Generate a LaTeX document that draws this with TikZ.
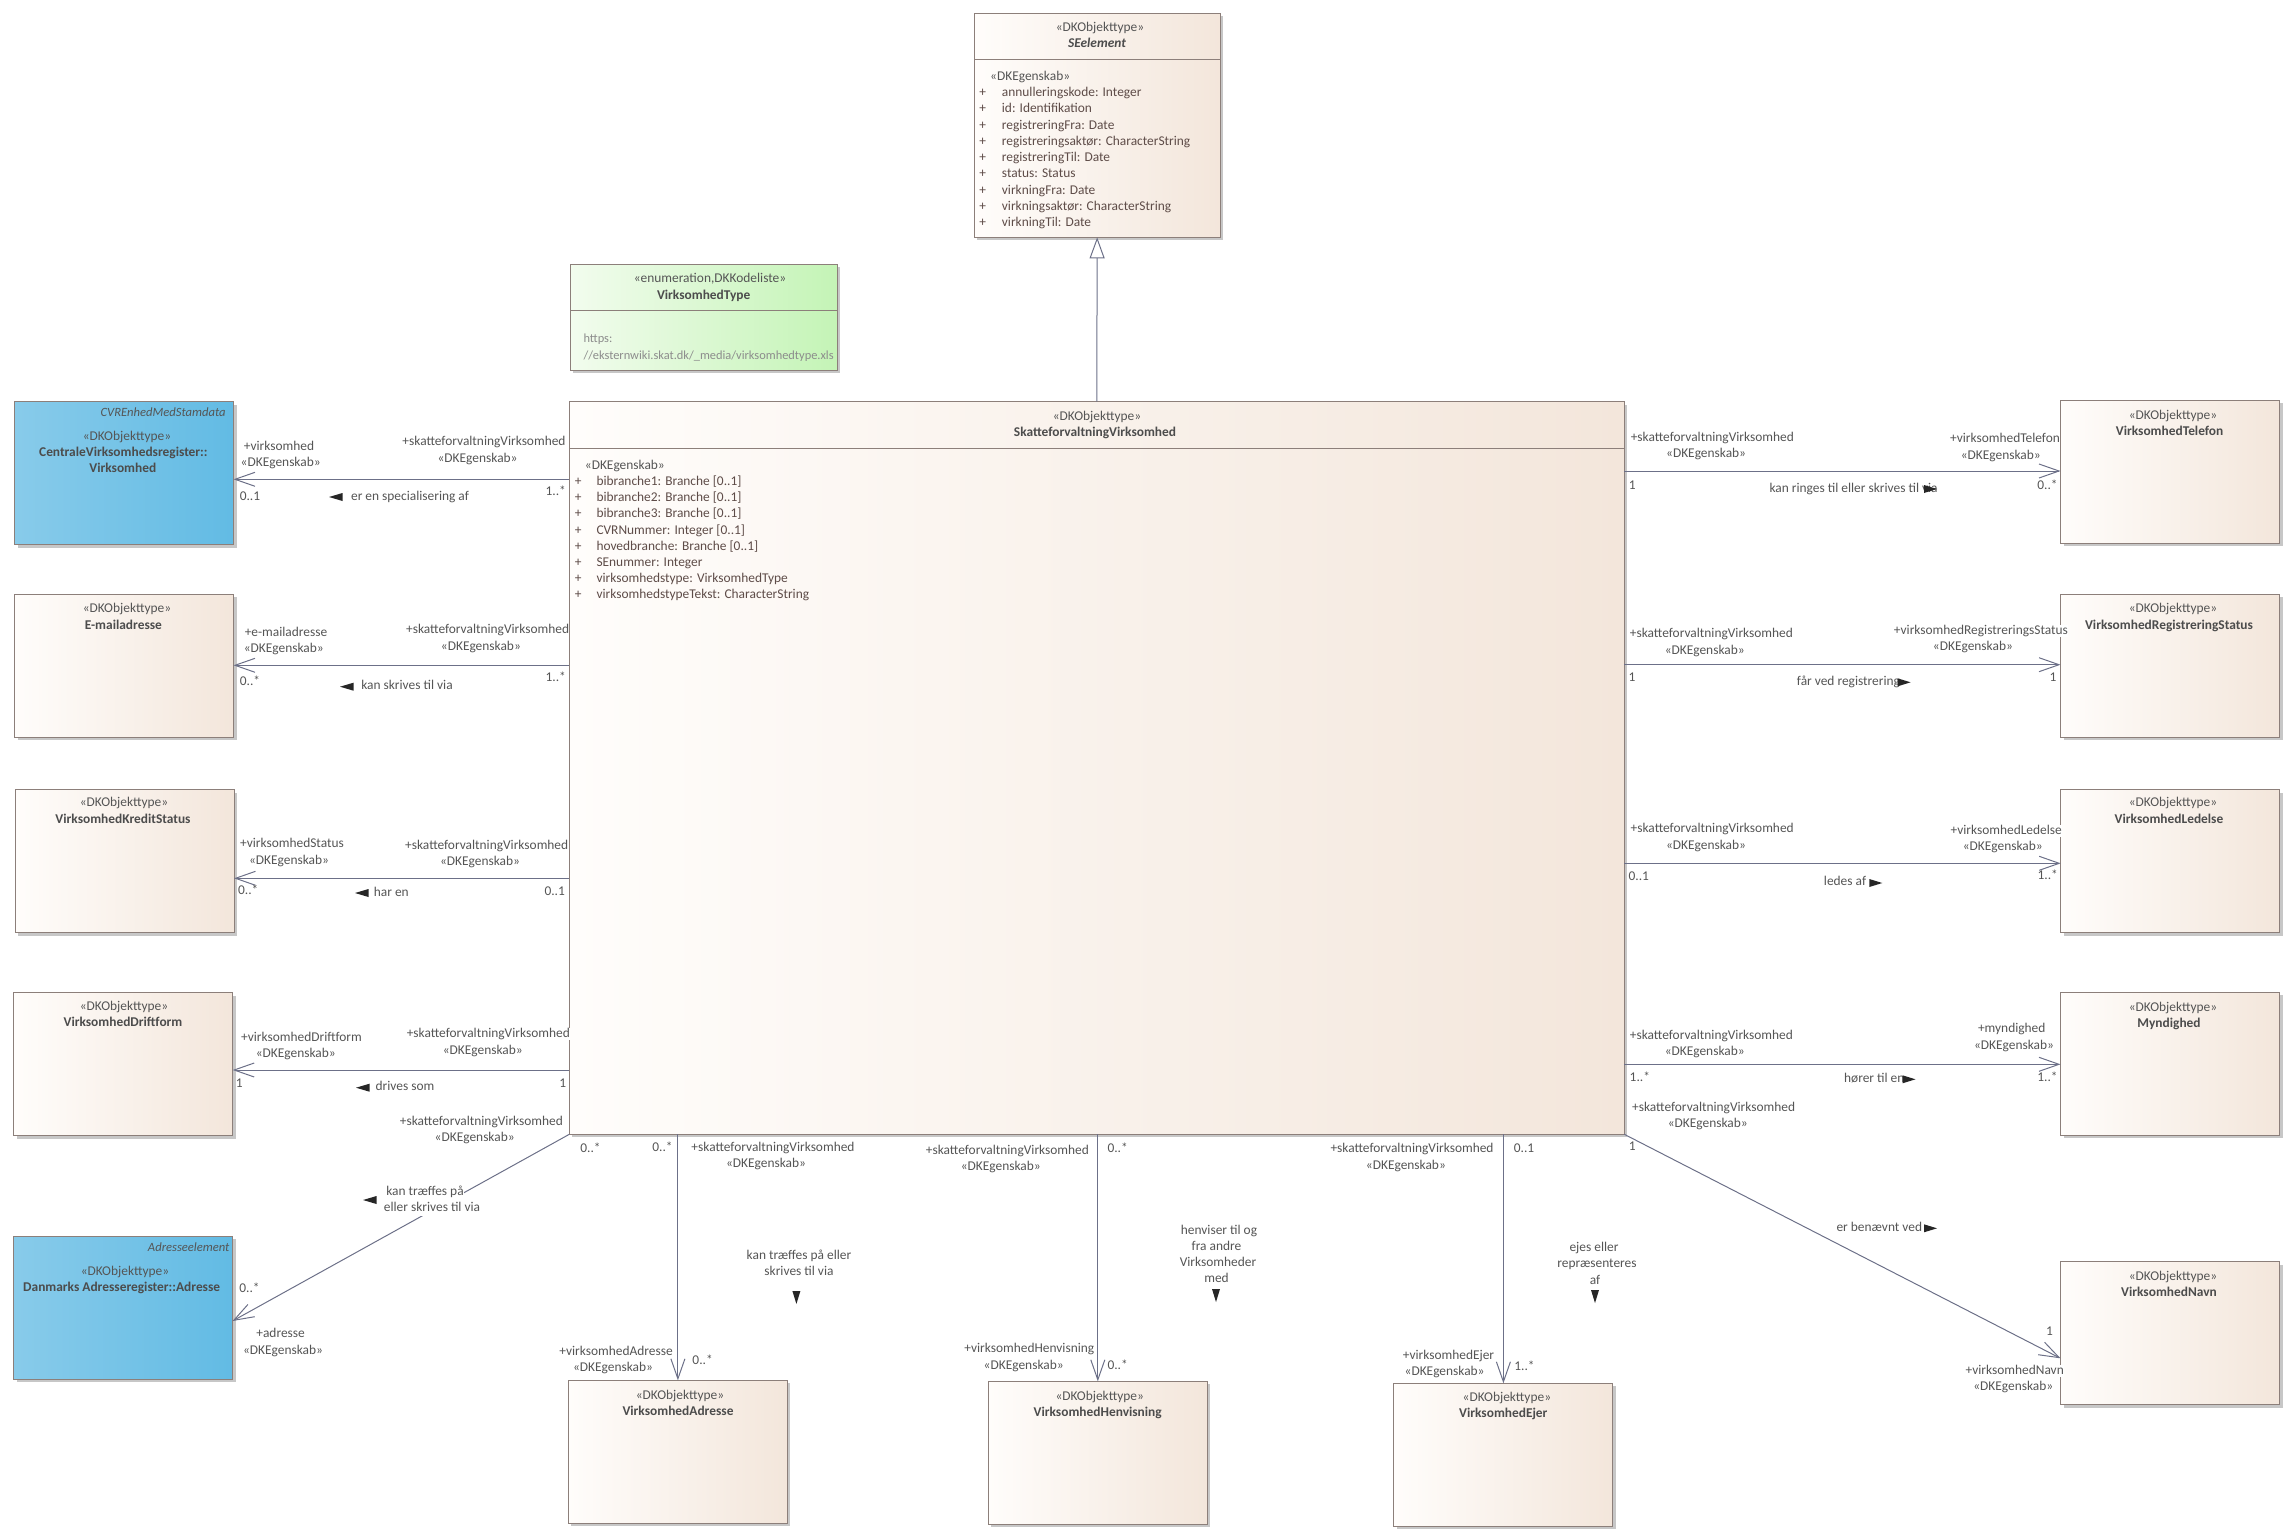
\documentclass[tikz,border=0pt]{standalone}
\usepackage{fontspec}
\setmainfont{Carlito}
\usetikzlibrary{
  arrows.meta,
  shadows,
}
\definecolor{boxleft}{HTML}{FFFDFB}
\definecolor{boxright}{HTML}{F3E6DB}
\definecolor{boxline}{HTML}{8C7F7A}
\definecolor{blueleft}{HTML}{88CBEA}
\definecolor{blueright}{HTML}{62BBE4}
\definecolor{greenleft}{HTML}{F2FCEE}
\definecolor{greenright}{HTML}{C4F4B6}
\definecolor{assocline}{HTML}{6C7088}
\definecolor{labeltext}{HTML}{555555}
\definecolor{attrtext}{HTML}{5E4C48}
\tikzset{
  x=1pt,
  y=-1pt,
  every node/.style={font=\fontsize{13.4}{16}\selectfont, text=labeltext},
  umlbox/.style={
    rectangle,
    draw=boxline,
    line width=1pt,
    outer sep=0pt,
    anchor=north west,
    left color=boxleft,
    right color=boxright,
    drop shadow={shadow xshift=3pt, shadow yshift=-3pt, fill=black!22, opacity=1},
  },
  classbox/.style={umlbox, minimum width=219pt, minimum height=143pt},
  externalbox/.style={classbox, left color=blueleft, right color=blueright},
  codebox/.style={umlbox, left color=greenleft, right color=greenright},
  compartment/.style={draw=boxline, line width=.8pt},
  oneline/.style={inner sep=0pt, text height=9pt, text depth=3pt},
  stereo/.style={oneline},
  classname/.style={oneline, font=\fontsize{13.4}{16}\selectfont\bfseries, text=black!70},
  parentname/.style={oneline, anchor=east, font=\fontsize{12.6}{16}\selectfont\itshape},
  codetext/.style={oneline, anchor=west, text=black!45, font=\fontsize{12.4}{16}\selectfont},
  rolename/.style={oneline, fill=white},
  multiplicity/.style={oneline},
  assoctext/.style={oneline, fill=white, inner ysep=2pt, inner xsep=0pt},
  attrsign/.style={oneline, text=attrtext},
  attrline/.style={oneline, anchor=west, text=attrtext},
  assoc/.style={
    draw=assocline,
    line width=1pt,
    -{Straight Barb[length=20pt, width=14pt, line width=1pt]},
  },
  generalize/.style={
    draw=assocline,
    line width=1pt,
    -{Triangle[open, length=21pt, width=15pt, fill=white, line width=1pt]},
  },
  dirmark/.style={fill=black!85},
}
\begin{document}
\begin{tikzpicture}
  \useasboundingbox (0,0) rectangle (2293,1539);

  % classes
  \node[umlbox, minimum width=245.7pt, minimum height=224pt] (SEelement) at (974.3,13.3) {};
  \node[codebox, minimum width=267pt, minimum height=106pt] (VirksomhedType) at (570.3,264.3) {};
  \node[umlbox, minimum width=1055pt, minimum height=732.6pt] (hub) at (569.3,401.7) {};
  \node[externalbox] (CVR) at (14.5,401.7) {};
  \node[externalbox] (Adresseregister) at (13.5,1236.3) {};
  \foreach \id/\x/\y in {
    Email/14.5/594.3, KreditStatus/15/789.7, Driftform/13.7/992.8,
    Telefon/2060.5/400.3, RegStatus/2060.5/594.3, Ledelse/2060.7/789.7,
    Myndighed/2060.5/992.4, Navn/2060.5/1261.5,
    Adresse/568.4/1380.3, Henvisning/988.3/1381.3, Ejer/1393.9/1383.3}
    \node[classbox] (\id) at (\x,\y) {};

  \draw[compartment] (SEelement.west |- 0,59.3) -- (SEelement.east |- 0,59.3);
  \draw[compartment] (VirksomhedType.west |- 0,310.3) -- (VirksomhedType.east |- 0,310.3);
  \draw[compartment] (hub.west |- 0,448.3) -- (hub.east |- 0,448.3);

  % connectors
  \draw[generalize] (hub.north) -- (SEelement.south);
  \draw[assoc] (hub.west |- 0,479.3) -- (CVR.east |- 0,479.3);
  \draw[assoc] (hub.west |- 0,665.3) -- (Email.east |- 0,665.3);
  \draw[assoc] (hub.west |- 0,878.3) -- (KreditStatus.east |- 0,878.3);
  \draw[assoc] (hub.west |- 0,1070) -- (Driftform.east |- 0,1070);
  \draw[assoc] (hub.south west) -- (Adresseregister.east |- 0,1321);
  \draw[assoc] (Adresse.north |- hub.south) -- (Adresse.north);
  \draw[assoc] (Henvisning.north |- hub.south) -- (Henvisning.north);
  \draw[assoc] (Ejer.north |- hub.south) -- (Ejer.north);
  \draw[assoc] (hub.east |- 0,471) -- (Telefon.west |- 0,471);
  \draw[assoc] (hub.east |- 0,664.7) -- (RegStatus.west |- 0,664.7);
  \draw[assoc] (hub.east |- 0,863.3) -- (Ledelse.west |- 0,863.3);
  \draw[assoc] (hub.east |- 0,1064.3) -- (Myndighed.west |- 0,1064.3);
  \draw[assoc] (hub.south east) -- (Navn.west |- 0,1358.3);

  % class texts
  \foreach \id/\x/\y in {
    se/1100/28.3, hub/1097/417, cvr/127/437.3, mail/127/609, kredit/124/803,
    drift/124/1007.6, adr/125/1272.3, vadr/680/1396.3, henv/1099.7/1397.3,
    ejer/1506.9/1398.3, tlf/2173/416, reg/2173/609, led/2173/803,
    myn/2173/1008, navn/2173/1277.3}
    \node[stereo] (st\id) at (\x,\y) {«DKObjekttype»};
  \node[stereo] (stcode) at (710,279) {«enumeration,DKKodeliste»};
  \foreach \id/\txt/\x/\y in {
    hub/SkatteforvaltningVirksomhed/1095/433,
    cvra/CentraleVirksomhedsregister::/123.4/453,
    cvrb/Virksomhed/122.8/469,
    mail/E-mailadresse/123.4/626,
    kredit/VirksomhedKreditStatus/123/820,
    drift/VirksomhedDriftform/123/1023.7,
    adr/Danmarks Adresseregister::Adresse/121.7/1288.3,
    vadr/VirksomhedAdresse/678/1412,
    henv/VirksomhedHenvisning/1097.7/1413,
    ejer/VirksomhedEjer/1503.3/1414,
    tlf/VirksomhedTelefon/2169.6/432,
    reg/VirksomhedRegistreringStatus/2169/626,
    led/VirksomhedLedelse/2169/820,
    myn/Myndighed/2169/1024,
    navn/VirksomhedNavn/2169/1293,
    code/VirksomhedType/703.7/296}
    \node[classname] (nm\id) at (\x,\y) {\txt};
  \node[classname, font=\fontsize{13.4}{16}\selectfont\bfseries\itshape] (nmse) at (1097,44) {SEelement};
  \node[parentname] (parentcvr) at (225.8,413) {CVREnhedMedStamdata};
  \node[parentname] (parentadr) at (229.6,1248) {Adresseelement};
  \node[codetext] (codea) at (583.3,339) {https:};
  \node[codetext] (codeb) at (583.3,356) {//eksternwiki.skat.dk/\_media/virksomhedtype.xls};

  % attributes
  \node[oneline, anchor=west] (seattr) at (990,77.3) {«DKEgenskab»};
  \foreach \id/\txt/\y in {
    a/annulleringskode: Integer/93,
    b/id: Identifikation/109.3,
    c/registreringFra: Date/126.3,
    d/registreringsaktør: CharacterString/142.3,
    e/registreringTil: Date/158.3,
    f/status: Status/174,
    g/virkningFra: Date/191.3,
    h/virkningsaktør: CharacterString/207.3,
    i/virkningTil: Date/223.3} {
    \node[attrsign] (sesign\id) at (982.7,\y) {+};
    \node[attrline] (seattr\id) at (1001.7,\y) {\txt};
  }
  \node[oneline, anchor=west] (hubattr) at (584.7,466) {«DKEgenskab»};
  \foreach \id/\txt/\y in {
    a/bibranche1: Branche [0..1]/482,
    b/bibranche2: Branche [0..1]/498,
    c/bibranche3: Branche [0..1]/514,
    d/CVRNummer: Integer [0..1]/531,
    e/hovedbranche: Branche [0..1]/547,
    f/SEnummer: Integer/563,
    g/virksomhedstype: VirksomhedType/579,
    h/virksomhedstypeTekst: CharacterString/595.7} {
    \node[attrsign] (hubsign\id) at (578.3,\y) {+};
    \node[attrline] (hubattr\id) at (596.3,\y) {\txt};
  }

  % role names
  \foreach \id/\txt/\x/\y in {
    la/+skatteforvaltningVirksomhed/484/442.7,
    lb/+skatteforvaltningVirksomhed/487.6/630.7,
    lc/+skatteforvaltningVirksomhed/486.7/846,
    ld/+skatteforvaltningVirksomhed/488.3/1034.3,
    le/+skatteforvaltningVirksomhed/481.4/1122,
    ba/+skatteforvaltningVirksomhed/773/1148,
    bb/+skatteforvaltningVirksomhed/1007.4/1151,
    bc/+skatteforvaltningVirksomhed/1412/1149.3,
    ra/+skatteforvaltningVirksomhed/1712.3/438.3,
    rb/+skatteforvaltningVirksomhed/1711.4/634.3,
    rc/+skatteforvaltningVirksomhed/1712.2/829,
    rd/+skatteforvaltningVirksomhed/1711.4/1036,
    re/+skatteforvaltningVirksomhed/1713.6/1108,
    virk/+virksomhed/279/447,
    mail/+e-mailadresse/286/633,
    stat/+virksomhedStatus/292/844,
    drift/+virksomhedDriftform/301.5/1038.3,
    adr/+adresse/280.6/1334.3,
    vadr/+virksomhedAdresse/616/1352.3,
    henv/+virksomhedHenvisning/1029.3/1349.3,
    ejer/+virksomhedEjer/1448.5/1356,
    tlf/+virksomhedTelefon/2005/439.3,
    reg/+virksomhedRegistreringsStatus/1980.9/631,
    led/+virksomhedLedelse/2006.2/831.3,
    myn/+myndighed/2011.7/1029.3,
    navn/+virksomhedNavn/2014.7/1371}
    \node[rolename] (role\id) at (\x,\y) {\txt};
  \foreach \id/\x/\y in {
    la/477.6/459, lb/480.9/647, lc/480/862, ld/482.8/1051, le/474.7/1138.3,
    ba/766/1164, bb/1000.8/1167.3, bc/1405.9/1166,
    ra/1706.1/454.3, rb/1704.7/651, rc/1706/846.3, rd/1704.7/1052, re/1707.8/1124,
    virk/280.7/463.3, mail/283.8/649, stat/289/861, drift/295.8/1054.3,
    adr/283/1351, vadr/613/1368.3, henv/1023.7/1366, ejer/1444.6/1372,
    tlf/2000.8/456, reg/1972.9/647, led/2002.8/847.3, myn/2014/1046, navn/2013.3/1387}
    \node[rolename] (tag\id) at (\x,\y) {«DKEgenskab»};

  % multiplicities
  \foreach \id/\txt/\x/\y in {
    a/0..1/250/497, b/1..*/555.7/492.7, c/0..*/250/682.7, d/1..*/555.7/678.3,
    e/0..*/248.3/891.7, f/0..1/554.7/892, g/1/239.3/1084, h/1/562.7/1084,
    i/0..*/590.5/1149, j/0..*/249.5/1289, k/0..*/662.5/1148, l/0..*/702.6/1361,
    m/0..*/1117.6/1149, n/0..*/1117.6/1366.7, o/0..1/1524/1149, p/1..*/1524.5/1367.3,
    q/1/1632.2/486.3, r/0..*/2047.5/486.3, s/1/1632/678.3, t/1/2053/678.3,
    u/0..1/1638.8/877, v/1..*/2047.7/876.3, w/1..*/1639.8/1078.3, x/1..*/2047.5/1078.3,
    y/1/1632.2/1147, z/1/2049.5/1332.3}
    \node[multiplicity] (mult\id) at (\x,\y) {\txt};

  % association names
  \foreach \id/\txt/\x/\y in {
    a/er en specialisering af/410/497,
    b/kan skrives til via/407/686.7,
    c/har en/391.3/893,
    d/drives som/405/1087,
    ea/kan træffes på/425/1192,
    eb/eller skrives til via/432/1208,
    fa/kan træffes på eller/799/1256,
    fb/skrives til via/799/1272,
    ga/henviser til og/1219/1231,
    gb/fra andre/1216.5/1247,
    gc/Virksomheder/1218/1263.3,
    gd/med/1216.5/1279,
    ha/ejes eller/1594/1248.3,
    hb/repræsenteres/1597/1264,
    hc/af/1595/1281,
    i/kan ringes til eller skrives til via/1853.6/489,
    j/får ved registrering/1848.4/682.3,
    k/ledes af/1845/882,
    l/hører til en/1874.3/1079.3,
    m/er benævnt ved/1879.3/1228.3}
    \node[assoctext] (name\id) at (\x,\y) {\txt};

  % reading direction marks
  \foreach \x/\y in {329/497, 340/686.7, 355/893, 356/1087.7, 363/1200}
    \fill[dirmark] (\x,\y) -- ++(13.5,-4) -- ++(0,8) -- cycle;
  \foreach \x/\y in {1937/489, 1910.6/682.3, 1882.3/883, 1915.5/1079.3, 1937/1228.3}
    \fill[dirmark] (\x,\y) -- ++(-13,-4) -- ++(0,8) -- cycle;
  \foreach \x/\y in {796.4/1304, 1216/1302, 1595/1303}
    \fill[dirmark] (\x,\y) -- ++(-4,-13) -- ++(8,0) -- cycle;
\end{tikzpicture}
\end{document}
